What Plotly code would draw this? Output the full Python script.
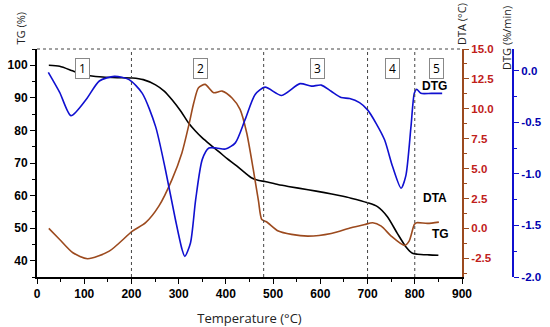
import plotly.graph_objects as go

# ---------------- data ----------------
tg_temp = [25, 48, 75, 97, 139, 170, 202, 225, 251, 270, 286, 305, 321, 335, 350, 368, 385, 402,
           420, 438, 455, 470, 483, 510, 532, 574, 609, 640, 665, 700, 721, 742, 763, 781, 795,
           806, 830, 850]
tg_val = [100, 99.7, 98.3, 97.1, 96.4, 96.2, 96.1, 95.6, 94.0, 92.0, 89.4, 85.8, 82.3, 79.9, 77.7,
          75.5, 73.5, 71.4, 69.4, 67.3, 65.4, 64.6, 64.3, 63.4, 62.8, 61.8, 60.9, 60.0, 59.2, 57.8,
          56.6, 53.5, 48.4, 44.3, 42.3, 42.0, 41.8, 41.7]

dta_temp = [25, 48, 76, 107, 153, 202, 230, 258, 286, 307, 321, 332, 342, 356, 374, 392, 413, 430,
            444, 458, 469, 476, 486, 511, 539, 574, 623, 665, 694, 711, 729, 750, 778, 788, 799,
            804, 827, 851]
dta_val = [0, -0.92, -2.03, -2.53, -1.9, -0.23, 0.48, 1.86, 4.1, 6.33, 8.55, 10.5, 11.76, 12.04,
           11.35, 11.48, 10.9, 9.95, 8.0, 4.93, 2.3, 0.75, 0.56, -0.22, -0.5, -0.64, -0.42, 0.06,
           0.33, 0.48, 0.19, -0.64, -1.42, -1.06, 0.33, 0.48, 0.42, 0.53]

dtg_temp = [24, 48, 72, 104, 132, 164, 195, 223, 251, 272, 293, 307, 313, 325, 336, 350, 364, 380,
            399, 420, 441, 462, 483, 518, 557, 581, 602, 623, 644, 662, 683, 700, 718, 736, 753,
            771, 781, 792, 799, 804, 813, 835, 858]
dtg_val = [-0.016, -0.21, -0.436, -0.28, -0.1, -0.055, -0.087, -0.22, -0.54, -0.96, -1.44, -1.73,
           -1.80, -1.67, -1.25, -0.86, -0.75, -0.75, -0.76, -0.70, -0.47, -0.23, -0.16, -0.24,
           -0.126, -0.15, -0.14, -0.2, -0.26, -0.27, -0.31, -0.38, -0.51, -0.67, -0.93, -1.14,
           -1.02, -0.54, -0.22, -0.18, -0.22, -0.22, -0.22]

stage_bounds = [200, 480, 700, 800]
stage_labels = ["1", "2", "3", "4", "5"]
stage_label_x = [96, 346, 595, 753, 845]

curve_labels = ["DTG", "DTA", "TG"]
curve_label_x = [841, 843, 854]
curve_label_y = [0.877, 0.307, 0.149]

# ---------------- style ----------------
BLUE = "#1010d0"
BROWN = "#9c4a1e"
DTA_TXT = "#c0201a"
TICKFONT = dict(family="Liberation Sans, Arial", size=12, color="black", weight="bold")
PW = 476.0   # plot-area width in px (paper)
PH = 228.0   # plot-area height in px
XD = 425 / PW

fig = go.Figure()
fig.add_trace(go.Scatter(x=tg_temp, y=tg_val, mode="lines", line=dict(color="black", width=1.6, shape="spline", smoothing=0.7), yaxis="y"))
fig.add_trace(go.Scatter(x=dta_temp, y=dta_val, mode="lines", line=dict(color=BROWN, width=1.6, shape="spline", smoothing=0.7), yaxis="y2"))
fig.add_trace(go.Scatter(x=dtg_temp, y=dtg_val, mode="lines", line=dict(color=BLUE, width=1.6, shape="spline", smoothing=0.7), yaxis="y3"))

shapes = []
for b in stage_bounds:
    shapes.append(dict(type="line", xref="x", yref="paper", x0=b, x1=b, y0=0, y1=1,
                       line=dict(color="#444", width=1, dash="dot")))
shapes.append(dict(type="line", xref="x", yref="paper", x0=0, x1=900, y0=1, y1=1,
                   line=dict(color="#444", width=1, dash="dot")))

annotations = []
for lab, xv in zip(stage_labels, stage_label_x):
    annotations.append(dict(x=xv, y=0.96, xref="x", yref="paper", text=lab, showarrow=False,
                            font=dict(family="Open Sans", size=12, color="black"),
                            bordercolor="#888", borderwidth=1, borderpad=1, bgcolor="white",
                            width=11))
for lab, xv, yv in zip(curve_labels, curve_label_x, curve_label_y):
    annotations.append(dict(x=xv, y=yv, xref="x", yref="paper", text="<b>" + lab + "</b>",
                            showarrow=False, font=dict(family="Liberation Sans, Arial", size=12, color="black")))
# axis titles
annotations.append(dict(x=(20 - 37) / PW, y=(277 - 47) / PH, xref="paper", yref="paper", text="TG (%)",
                        textangle=-90, showarrow=False, yanchor="bottom", xanchor="center",
                        font=dict(family="Open Sans", size=11, color="#222")))
annotations.append(dict(x=XD, y=(277 - 47) / PH, xref="paper", yref="paper", text="DTA (°C)",
                        textangle=-90, showarrow=False, yanchor="bottom", xanchor="center",
                        font=dict(family="Open Sans", size=11, color="#222")))
annotations.append(dict(x=(506 - 37) / PW, y=(277 - 72) / PH, xref="paper", yref="paper", text="DTG (%/min)",
                        textangle=-90, showarrow=False, yanchor="bottom", xanchor="center",
                        font=dict(family="Open Sans", size=11, color="#222")))

fig.update_layout(
    width=550, height=327,
    margin=dict(l=37, r=37, t=49, b=50, autoexpand=False),
    paper_bgcolor="white", plot_bgcolor="white",
    showlegend=False,
    shapes=shapes, annotations=annotations,
    xaxis=dict(domain=[0, XD], range=[0, 900], tickmode="linear", tick0=0, dtick=100,
               ticks="outside", ticklen=5, tickcolor="black", showline=True, linecolor="black",
               linewidth=2, showgrid=False, zeroline=False, tickfont=TICKFONT,
               minor=dict(dtick=50, ticks="outside", ticklen=3, tickcolor="black"),
               title=dict(text="Temperature (°C)", font=dict(family="Open Sans", size=13, color="#222"))),
    yaxis=dict(range=[35, 105], tickmode="array", tickvals=[40, 50, 60, 70, 80, 90, 100],
               ticks="outside", ticklen=5, tickcolor="black", showline=True, linecolor="black",
               linewidth=2, showgrid=False, zeroline=False, tickfont=TICKFONT,
               minor=dict(tickvals=[35, 45, 55, 65, 75, 85, 95, 105], ticks="outside", ticklen=3, tickcolor="black")),
    yaxis2=dict(range=[-4.06, 15], overlaying="y", side="right", anchor="x",
                tickmode="array", tickvals=[-2.5, 0, 2.5, 5, 7.5, 10, 12.5, 15],
                ticktext=["-2.5", "0.0", "2.5", "5.0", "7.5", "10.0", "12.5", "15.0"],
                ticks="outside", ticklen=5, tickcolor=BROWN, showline=True, linecolor=BROWN,
                linewidth=2, showgrid=False, zeroline=False,
                tickfont=dict(family="Liberation Sans, Arial", size=11.5, color=DTA_TXT, weight="bold"),
                minor=dict(tickvals=[-3.75, -1.25, 1.25, 3.75, 6.25, 8.75, 11.25, 13.75], ticks="outside", ticklen=3, tickcolor=BROWN)),
    yaxis3=dict(range=[-2.0, 0.21], overlaying="y", side="right", anchor="free", position=1.0,
                tickmode="array", tickvals=[-2.0, -1.5, -1.0, -0.5, 0.0],
                ticktext=["-2.0", "-1.5", "-1.0", "-0.5", "0.0"],
                ticks="outside", ticklen=5, tickcolor=BLUE, showline=True, linecolor=BLUE,
                linewidth=2, showgrid=False, zeroline=False,
                tickfont=dict(family="Liberation Sans, Arial", size=11.5, color="#0000b0", weight="bold"),
                minor=dict(tickvals=[-1.75, -1.25, -0.75, -0.25], ticks="outside", ticklen=3, tickcolor=BLUE)),
)

# remove the default 8px page margin so the figure fills the 550x327 window exactly
fig.write_html("out.html", config={"displayModeBar": False},
               post_script="document.body.style.margin='0px';")
